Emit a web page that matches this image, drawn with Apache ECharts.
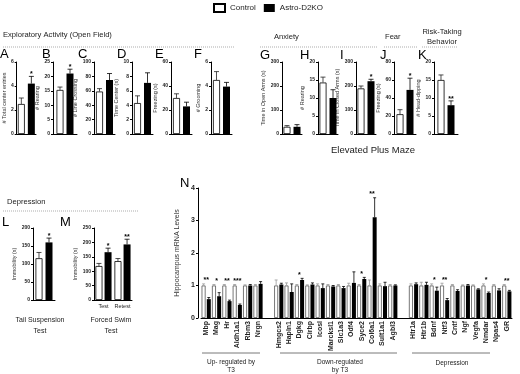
<!DOCTYPE html>
<html>
<head>
<meta charset="utf-8">
<script src="https://cdn.jsdelivr.net/npm/echarts@6/dist/echarts.min.js"></script>
<style>
html, body { margin: 0; padding: 0; background: #fff; }
#chart { width: 520px; height: 374px; }
</style>
</head>
<body>
<div id="chart"></div>
<script>
const groups = ['Control', 'Astro-D2KO'];

// A–F open field
const openFieldNames = ['# Total center entries', '# Rearing', '# Line Crossing', 'Time Center (s)', 'Freezing (s)', '# Grooming'];
const openFieldMax = [6, 25, 100, 10, 60, 6];
const openFieldStep = [2, 5, 20, 2, 20, 2];
const openFieldCtrl = [2.5, 15.3, 59, 4.3, 30, 4.5];
const openFieldCtrlErr = [3.0, 16.3, 63, 5.3, 33.5, 5.2];
const openFieldKo = [4.2, 21, 75, 7.1, 23, 3.95];
const openFieldKoErr = [4.8, 22.5, 84, 8.5, 26.5, 4.3];
const openFieldStars = ['*', '*', '', '', '', ''];

// G–K elevated plus maze
const plusMazeNames = ['Time in Open Arms (s)', '# Rearing', 'Time in Closed Arms (s)', 'Freezing (s)', '# Head-dipping'];
const plusMazeMax = [300, 20, 300, 80, 20];
const plusMazeStep = [100, 5, 100, 20, 5];
const plusMazeCtrl = [30, 14.3, 190, 22, 15];
const plusMazeCtrlErr = [35, 15.8, 200, 27, 16.4];
const plusMazeKo = [30, 10, 220, 49, 8];
const plusMazeKoErr = [39, 12.3, 228, 62, 9.2];
const plusMazeStars = ['', '', '*', '*', '**'];

// L tail suspension
const tailCtrl = [116];
const tailCtrlErr = [132];
const tailKo = [160];
const tailKoErr = [172];
const tailStars = ['*'];

// M forced swim
const swimCats = ['Test', 'Retest'];
const swimCtrl = [118, 135];
const swimCtrlErr = [127, 144];
const swimKo = [166, 193];
const swimKoErr = [180, 211];
const swimStars = ['*', '**'];

// N hippocampus mRNA
const genes = ['Mbp', 'Mag', 'Hr', 'Aldh1a1', 'Rbm3', 'Nrgn', '',
  'Hmgcs2', 'Hapln1', 'Dgkg', 'Cirbp', 'Icosl', 'Marcksl1', 'Slc1a3', 'Odf4', 'Syce2', 'Col6a1', 'Sult1a1', 'Agbl3', '',
  'Htr1a', 'Htr1b', 'Bdnf', 'Ntf3', 'Cntf', 'Ngf', 'Vegfa', 'Nmdar', 'Npas4', 'GR'];
const geneCtrl = [1, 1, 1, 1, 1, 1, null,
  1, 1, 1, 1, 1, 1, 1, 1, 1, 1, 1, 1, null,
  1, 1, 1, 1, 1, 1, 1, 1, 1, 1];
const geneCtrlErr = [1.05, 1.03, 1.03, 1.03, 1.02, 1.03, null,
  1.17, 1.08, 1.03, 1.02, 1.05, 1.03, 1.03, 1.07, 1.03, 1.17, 1.05, 1.03, null,
  1.05, 1.1, 1.05, 1.07, 1.03, 1.02, 1.02, 1.05, 1.03, 1.03];
const geneKo = [0.58, 0.67, 0.52, 0.40, 1.0, 1.05, null,
  1.03, 0.80, 1.17, 1.03, 0.92, 0.97, 0.92, 1.08, 1.2, 3.1, 0.98, 1.0, null,
  1.04, 1.02, 0.84, 0.55, 0.83, 1.0, 0.88, 0.77, 0.85, 0.82];
const geneKoErr = [0.63, 0.78, 0.55, 0.43, 1.03, 1.12, null,
  1.07, 1.05, 1.22, 1.08, 1.05, 1.0, 0.97, 1.42, 1.25, 3.7, 1.1, 1.02, null,
  1.08, 1.1, 0.95, 0.6, 0.87, 1.03, 0.9, 0.8, 0.9, 0.85];
const geneStars = ['**', '*', '**', '***', '', '', '',
  '', '', '*', '', '', '', '', '', '*', '**', '', '', '',
  '', '', '*', '**', '', '', '', '*', '', '**'];

const FONT = 'Liberation Sans, Arial, sans-serif';
const grids = [];
const xAxes = [];
const yAxes = [];
const series = [];

function errorSeries(gi, vals, errs, off, color, cap) {
  const data = [];
  vals.forEach((v, i) => { if (v != null) data.push([i, v, errs[i]]); });
  return {
    type: 'custom', xAxisIndex: gi, yAxisIndex: gi, silent: true, clip: false, z: 3,
    data: data,
    renderItem: (params, api) => {
      const top = api.coord([api.value(0), api.value(2)]);
      const base = api.coord([api.value(0), api.value(1)]);
      const x = top[0] + off;
      return {
        type: 'group',
        children: [
          { type: 'line', shape: { x1: x, y1: base[1], x2: x, y2: top[1] }, style: { stroke: color, lineWidth: 0.8 } },
          { type: 'line', shape: { x1: x - cap, y1: top[1], x2: x + cap, y2: top[1] }, style: { stroke: color, lineWidth: 0.8 } }
        ]
      };
    }
  };
}

function starSeries(gi, stars, heights, off, size) {
  const data = [];
  const texts = [];
  stars.forEach((s, i) => { if (s) { data.push([i, heights[i]]); texts.push(s); } });
  return {
    type: 'custom', xAxisIndex: gi, yAxisIndex: gi, silent: true, clip: false, z: 4,
    data: data,
    renderItem: (params, api) => {
      const p = api.coord([api.value(0), api.value(1)]);
      return {
        type: 'text', x: p[0] + off, y: p[1] + 1.5,
        style: {
          text: texts[params.dataIndex], fill: '#000', font: 'bold ' + size + 'px ' + FONT,
          align: 'center', verticalAlign: 'bottom', textAlign: 'center', textVerticalAlign: 'bottom'
        }
      };
    }
  };
}

function addPanel(o) {
  const gi = grids.length;
  grids.push({ left: o.left, top: o.top, width: o.width, height: o.height });
  xAxes.push({
    type: 'category', gridIndex: gi, data: o.cats,
    axisTick: { show: false },
    axisLine: { lineStyle: { color: '#000', width: 1 } },
    axisLabel: o.catLabel || { show: false }
  });
  yAxes.push({
    type: 'value', gridIndex: gi, min: 0, max: o.max, interval: o.step,
    offset: o.yOffset || 0,
    name: o.name, nameLocation: 'middle', nameGap: o.nameGap,
    nameTextStyle: { fontSize: o.nameSize || 5.5, color: '#333', fontFamily: FONT },
    axisLine: { show: true, lineStyle: { color: '#000', width: 1 } },
    axisTick: { show: true, length: 2, lineStyle: { color: '#000' } },
    axisLabel: { fontSize: o.tickSize || 5, fontWeight: 'bold', margin: 3, color: '#222', fontFamily: FONT },
    splitLine: { show: false }
  });
  const off = o.barW * (1 + o.gap) / 2;
  series.push({
    type: 'bar', name: groups[0], xAxisIndex: gi, yAxisIndex: gi, data: o.ctrl,
    barWidth: o.barW, barGap: (o.gap * 100) + '%', silent: true,
    itemStyle: { color: '#fff', borderColor: o.ctrlBorder || '#000', borderWidth: 0.8 }
  });
  series.push({
    type: 'bar', name: groups[1], xAxisIndex: gi, yAxisIndex: gi, data: o.ko,
    barWidth: o.barW, barGap: (o.gap * 100) + '%', silent: true,
    itemStyle: { color: '#000' }
  });
  series.push(errorSeries(gi, o.ctrl, o.ctrlErr, -off, o.ctrlErrColor || '#222', o.cap));
  series.push(errorSeries(gi, o.ko, o.koErr, off, '#000', o.cap));
  if (o.centerStars) {
    const h = o.koErr.map((e, i) => e == null ? null : Math.max(e, o.ctrlErr[i]) + 0.05);
    series.push(starSeries(gi, o.stars, h, 0, o.starSize));
  } else {
    series.push(starSeries(gi, o.stars, o.koErr, off, o.starSize));
  }
}

const topFrames = [[14, 22], [53, 24], [94, 21], [132, 21], [171, 21], [211, 21],
  [282, 20], [318, 20], [356, 20], [394, 22], [434, 24]];

openFieldCtrl.forEach((v, i) => {
  addPanel({
    left: topFrames[i][0], width: topFrames[i][1], top: 62, height: 72,
    max: openFieldMax[i], step: openFieldStep[i], name: openFieldNames[i],
    nameGap: String(openFieldMax[i]).length * 2.8 + 6,
    cats: [''], ctrl: [v], ctrlErr: [openFieldCtrlErr[i]], ko: [openFieldKo[i]], koErr: [openFieldKoErr[i]],
    stars: [openFieldStars[i]], barW: 7, gap: 0.43, cap: 2.5, starSize: 7
  });
});

plusMazeCtrl.forEach((v, i) => {
  const f = topFrames[6 + i];
  addPanel({
    left: f[0], width: f[1], top: 62, height: 72,
    max: plusMazeMax[i], step: plusMazeStep[i], name: plusMazeNames[i],
    nameGap: String(plusMazeMax[i]).length * 2.8 + 6,
    cats: [''], ctrl: [v], ctrlErr: [plusMazeCtrlErr[i]], ko: [plusMazeKo[i]], koErr: [plusMazeKoErr[i]],
    stars: [plusMazeStars[i]], barW: 7, gap: 0.43, cap: 2.5, starSize: 7
  });
});

addPanel({
  left: 33, width: 22, top: 228, height: 72, max: 200, step: 50, name: 'Immobility (s)', nameGap: 14,
  cats: [''], ctrl: tailCtrl, ctrlErr: tailCtrlErr, ko: tailKo, koErr: tailKoErr,
  stars: tailStars, barW: 7, gap: 0.43, cap: 2.5, starSize: 7
});

addPanel({
  left: 94, width: 38, top: 228, height: 72, max: 250, step: 50, name: 'Immobility (s)', nameGap: 14,
  cats: swimCats, catLabel: { show: true, interval: 0, fontSize: 5.5, margin: 3, color: '#222', fontFamily: FONT },
  ctrl: swimCtrl, ctrlErr: swimCtrlErr, ko: swimKo, koErr: swimKoErr,
  stars: swimStars, barW: 7, gap: 0.3, cap: 2.5, starSize: 7
});

addPanel({
  left: 201, width: 311, top: 188, height: 130, max: 4, step: 1, yOffset: 3,
  name: 'Hippocampus mRNA Levels', nameGap: 9, nameSize: 7, tickSize: 7,
  cats: genes,
  catLabel: { show: true, interval: 0, rotate: 90, fontSize: 7, fontWeight: 'bold', margin: 3, color: '#222', fontFamily: FONT },
  ctrl: geneCtrl, ctrlErr: geneCtrlErr, ko: geneKo, koErr: geneKoErr, ctrlBorder: '#555', ctrlErrColor: '#999',
  stars: geneStars, barW: 4, gap: 0.3, cap: 1.5, starSize: 7, centerStars: true
});

function txt(x, y, s, size, opts) {
  opts = opts || {};
  return {
    type: 'text', x: x, y: y, silent: true,
    style: {
      text: s, fill: opts.color || '#222', font: (opts.weight || 'normal') + ' ' + size + 'px ' + FONT,
      textAlign: opts.align || 'left', textVerticalAlign: 'middle'
    }
  };
}
function rule(x1, x2, y, dotted) {
  return {
    type: 'line', silent: true, shape: { x1: x1, y1: y, x2: x2, y2: y },
    style: { stroke: dotted ? '#999' : '#555', lineWidth: 0.8, lineDash: dotted ? [1, 1] : null }
  };
}

const graphics = [
  txt(3, 35, 'Exploratory Activity (Open Field)', 7.6),
  rule(3, 235, 47, true),
  txt(274, 37, 'Anxiety', 7.6),
  rule(260, 378, 47, true),
  txt(385, 37, 'Fear', 7.6),
  rule(384, 417, 47, true),
  txt(442, 32, 'Risk-Taking', 7.6, { align: 'center' }),
  txt(442, 42, 'Behavior', 7.6, { align: 'center' }),
  rule(422, 458, 47, true),
  txt(373, 150, 'Elevated Plus Maze', 9.5, { align: 'center' }),
  txt(7, 202, 'Depression', 7.6),
  rule(3, 138, 211, true),
  txt(40, 320, 'Tail Suspension', 7, { align: 'center' }),
  txt(40, 331, 'Test', 7, { align: 'center' }),
  txt(111, 320, 'Forced Swim', 7, { align: 'center' }),
  txt(111, 331, 'Test', 7, { align: 'center' }),
  rule(202, 260, 353, false),
  txt(231, 362, 'Up- regulated by', 6.5, { align: 'center' }),
  txt(231, 370, 'T3', 6.5, { align: 'center' }),
  rule(280, 397, 353, false),
  txt(340, 362, 'Down-regulated', 6.5, { align: 'center' }),
  txt(340, 370, 'by T3', 6.5, { align: 'center' }),
  rule(412, 490, 353, false),
  txt(452, 363, 'Depression', 6.5, { align: 'center' })
];
const letters = [['A', 0, 54], ['B', 42, 54], ['C', 78, 54], ['D', 117, 54], ['E', 155, 54], ['F', 194, 54],
  ['G', 260, 55], ['H', 300, 55], ['I', 340, 55], ['J', 380, 55], ['K', 418, 55],
  ['L', 2, 222], ['M', 60, 222], ['N', 180, 183]];
letters.forEach(l => graphics.push(txt(l[1], l[2], l[0], 13, { color: '#000' })));

const chart = echarts.init(document.getElementById('chart'), null, { renderer: 'canvas' });
chart.setOption({
  backgroundColor: '#fff',
  animation: false,
  textStyle: { fontFamily: FONT },
  legend: {
    data: groups, left: 208, top: -2, itemWidth: 11, itemHeight: 8, itemGap: 8,
    icon: 'rect', selectedMode: false,
    textStyle: { fontSize: 8, color: '#222', fontFamily: FONT }
  },
  grid: grids,
  xAxis: xAxes,
  yAxis: yAxes,
  series: series,
  graphic: graphics
});
</script>
</body>
</html>
